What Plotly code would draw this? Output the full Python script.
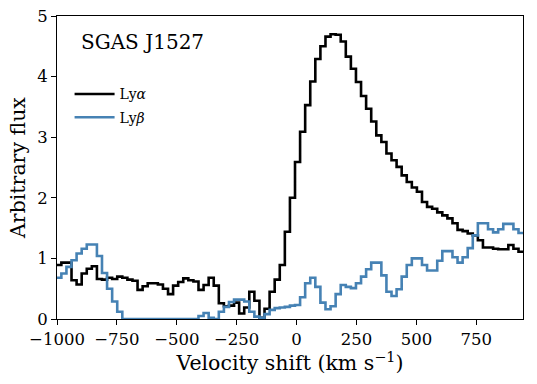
import plotly.graph_objects as go

# Velocity bin grid (km/s): first bin edge and bin width
V0 = -1003.0
DV = 21.2

lya_flux = [
    0.89, 0.93, 0.93, 0.64, 0.57, 0.75, 0.83, 0.87, 0.66, 0.65,
    0.68, 0.66, 0.70, 0.68, 0.65, 0.63, 0.48, 0.54, 0.59, 0.59,
    0.57, 0.50, 0.41, 0.55, 0.61, 0.67, 0.64, 0.62, 0.48, 0.56,
    0.68, 0.55, 0.26, 0.21, 0.22, 0.27, 0.09, 0.19, 0.45, 0.30,
    0.02, 0.17, 0.45, 0.65, 0.89, 1.44, 2.00, 2.59, 3.09, 3.53,
    3.92, 4.29, 4.50, 4.66, 4.70, 4.69, 4.58, 4.33, 4.13, 3.91,
    3.68, 3.47, 3.26, 3.03, 2.92, 2.73, 2.62, 2.51, 2.37, 2.26,
    2.17, 2.10, 1.93, 1.85, 1.82, 1.76, 1.71, 1.66, 1.58, 1.47,
    1.45, 1.41, 1.38, 1.30, 1.18, 1.18, 1.16, 1.15, 1.15, 1.22,
    1.16, 1.11,
]

lyb_flux = [
    0.68, 0.75, 0.86, 0.97, 1.08, 1.16, 1.23, 1.23, 1.04, 0.76,
    0.50, 0.29, 0.12, 0.00, 0.00, 0.00, 0.00, 0.00, 0.00, 0.00,
    0.00, 0.00, 0.00, 0.00, 0.00, 0.00, 0.00, 0.00, 0.05, 0.10,
    0.02, 0.00, 0.12, 0.20, 0.28, 0.32, 0.32, 0.29, 0.12, 0.04,
    0.02, 0.08, 0.15, 0.18, 0.19, 0.20, 0.22, 0.23, 0.36, 0.59,
    0.68, 0.53, 0.27, 0.16, 0.21, 0.41, 0.56, 0.53, 0.51, 0.59,
    0.70, 0.82, 0.93, 0.93, 0.72, 0.45, 0.38, 0.49, 0.70, 0.89,
    1.00, 1.00, 0.89, 0.80, 0.80, 0.96, 1.12, 1.12, 1.02, 0.93,
    1.02, 1.17, 1.38, 1.58, 1.58, 1.48, 1.43, 1.48, 1.57, 1.57,
    1.48, 1.42,
]

x_ticks = [-1000, -750, -500, -250, 0, 250, 500, 750]
y_ticks = [0, 1, 2, 3, 4, 5]
x_range = [-1000, 945]
y_range = [0, 5]

series_names = ["Ly<i>α</i>", "Ly<i>β</i>"]
series_colors = ["#000000", "#4682b4"]

FONT = "DejaVu Serif"


def step_xy(values):
    edges = [V0 + DV * i for i in range(len(values) + 1)]
    ys = list(values) + [values[-1]]
    return edges, ys


fig = go.Figure()
for i, (name, vals, col) in enumerate(zip(series_names, [lya_flux, lyb_flux], series_colors)):
    xs, ys = step_xy(vals)
    fig.add_trace(go.Scatter(
        x=xs, y=ys, mode="lines", name=name, legendgroup="g%d" % i,
        line=dict(color=col, width=2.6, shape="hv"),
    ))

axis_common = dict(
    showline=True, linecolor="#000000", linewidth=1.1, mirror=True,
    showgrid=False, zeroline=False, automargin=False,
    ticks="outside", ticklen=5, tickwidth=1.1, tickcolor="#000000",
    tickfont=dict(family=FONT, size=16.5, color="#000000"),
)

fig.update_layout(
    width=537, height=384,
    margin=dict(l=57, r=14, t=16, b=65),
    paper_bgcolor="white", plot_bgcolor="white",
    font=dict(family=FONT, color="#000000"),
    xaxis=dict(
        range=x_range, tickmode="array", tickvals=x_ticks,
        title=dict(text="Velocity shift (km s<sup>−1</sup>)",
                   font=dict(family=FONT, size=20.5, color="#000000"), standoff=4),
        **axis_common,
    ),
    yaxis=dict(
        range=y_range, tickmode="array", tickvals=y_ticks,
        title=dict(text="Arbitrary flux",
                   font=dict(family=FONT, size=20.5, color="#000000"), standoff=5),
        **axis_common,
    ),
    legend=dict(
        x=0.027, y=0.794, xanchor="left", yanchor="top",
        bgcolor="rgba(0,0,0,0)", borderwidth=0,
        font=dict(family=FONT, size=14, color="#000000"),
        tracegroupgap=2, itemwidth=40,
    ),
    showlegend=True,
)

fig.add_annotation(
    text="SGAS J1527", xref="paper", yref="paper",
    x=0.047, y=0.914, xanchor="left", yanchor="middle",
    showarrow=False, font=dict(family=FONT, size=20, color="#000000"),
)

fig.write_html("out.html", config={"displayModeBar": False},
               post_script="document.body.style.margin='0';")
